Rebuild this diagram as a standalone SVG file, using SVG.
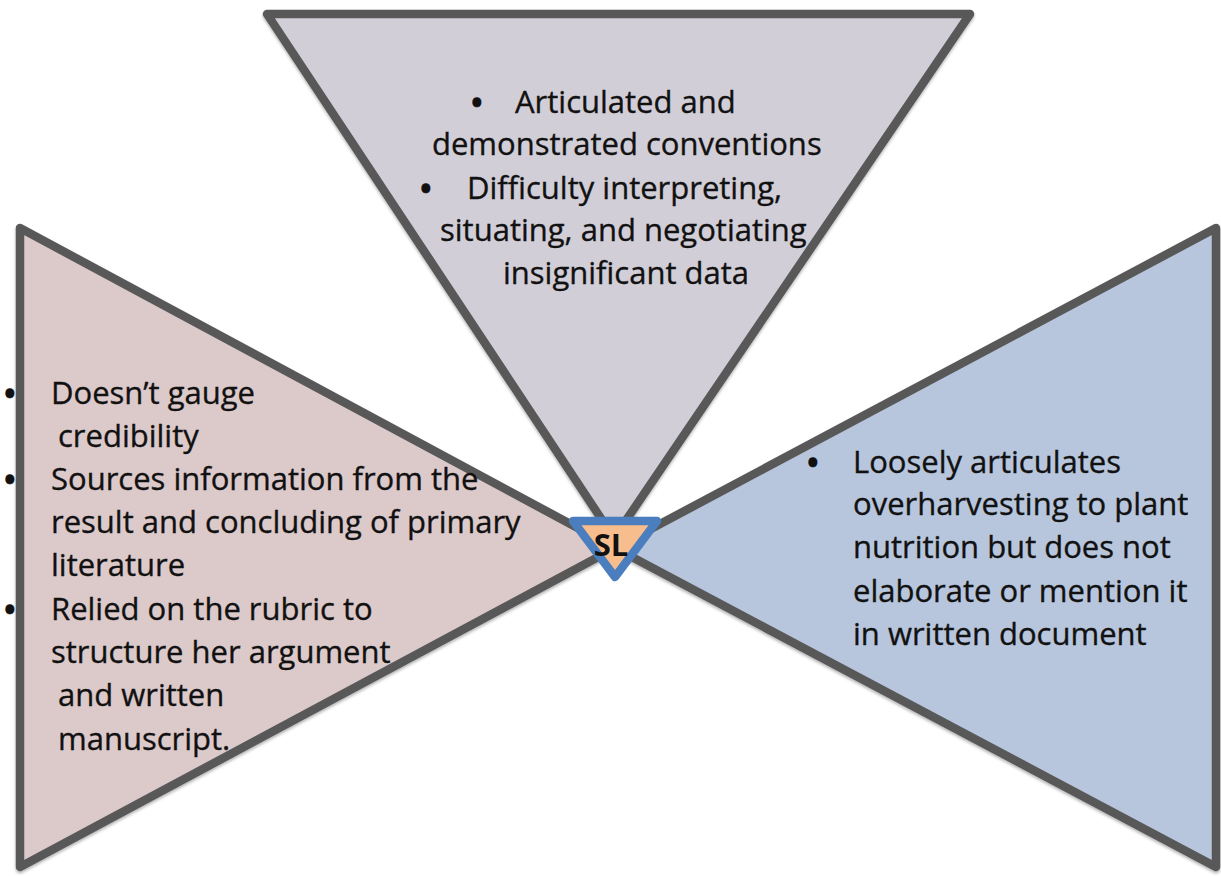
<svg xmlns="http://www.w3.org/2000/svg" width="1221" height="876" viewBox="0 0 1221 876">
  <defs>
    <filter id="sh" x="-5%" y="-5%" width="110%" height="110%">
      <feDropShadow dx="0" dy="2" stdDeviation="1.5" flood-color="#000" flood-opacity="0.3"/>
    </filter>
  </defs>
  <style>
    .tri { stroke: #595959; stroke-width: 8.5; stroke-linejoin: round; }
    .t { font-family: "Open Sans", "Liberation Sans", sans-serif; font-size: 31px; fill: #111; stroke: #111; stroke-width: 0.35; }
    .b { font-weight: bold; }
    .sl { font-family: "Open Sans", "Liberation Sans", sans-serif; font-size: 31px; font-weight: bold; fill: #111; }
  </style>
  <rect width="1221" height="876" fill="#ffffff"/>

  <g id="node-left">
    <polygon class="tri" points="20,228 615,548 20,867" fill="#dcc9ca" filter="url(#sh)"/>
  </g>
  <g id="node-right">
    <polygon class="tri" points="1216,228 615,548 1216,867" fill="#b7c6dc" filter="url(#sh)"/>
  </g>
  <g id="node-top">
    <polygon class="tri" points="267,14 970,14 614,538" fill="#d1ced7" filter="url(#sh)"/>
  </g>

  <g id="text-top" class="t">
    <text x="471" y="113"><tspan class="b">•</tspan><tspan x="515">Articulated and</tspan></text>
    <text x="432" y="155">demonstrated conventions</text>
    <text x="420" y="199"><tspan class="b">•</tspan><tspan x="467">Difficulty interpreting,</tspan></text>
    <text x="440" y="241">situating, and negotiating</text>
    <text x="503" y="284">insignificant data</text>
  </g>

  <g id="text-left" class="t">
    <text x="4" y="404"><tspan class="b">•</tspan><tspan x="51">Doesn’t gauge</tspan></text>
    <text x="58" y="447">credibility</text>
    <text x="4" y="490"><tspan class="b">•</tspan><tspan x="51">Sources information from the</tspan></text>
    <text x="51" y="533">result and concluding of primary</text>
    <text x="51" y="576">literature</text>
    <text x="4" y="620"><tspan class="b">•</tspan><tspan x="51">Relied on the rubric to</tspan></text>
    <text x="51" y="663">structure her argument</text>
    <text x="58" y="706">and written</text>
    <text x="58" y="750">manuscript.</text>
  </g>

  <g id="text-right" class="t">
    <text x="807" y="473"><tspan class="b">•</tspan><tspan x="853">Loosely articulates</tspan></text>
    <text x="853" y="515">overharvesting to plant</text>
    <text x="853" y="558">nutrition but does not</text>
    <text x="853" y="602">elaborate or mention it</text>
    <text x="853" y="645">in written document</text>
  </g>

  <g id="node-center">
    <polygon points="573,521 657,521 615,577" fill="#f8bd8c" stroke="#4a7ebf" stroke-width="8.5" stroke-linejoin="round"/>
    <text class="sl" x="611" y="556" text-anchor="middle">SL</text>
  </g>
</svg>
